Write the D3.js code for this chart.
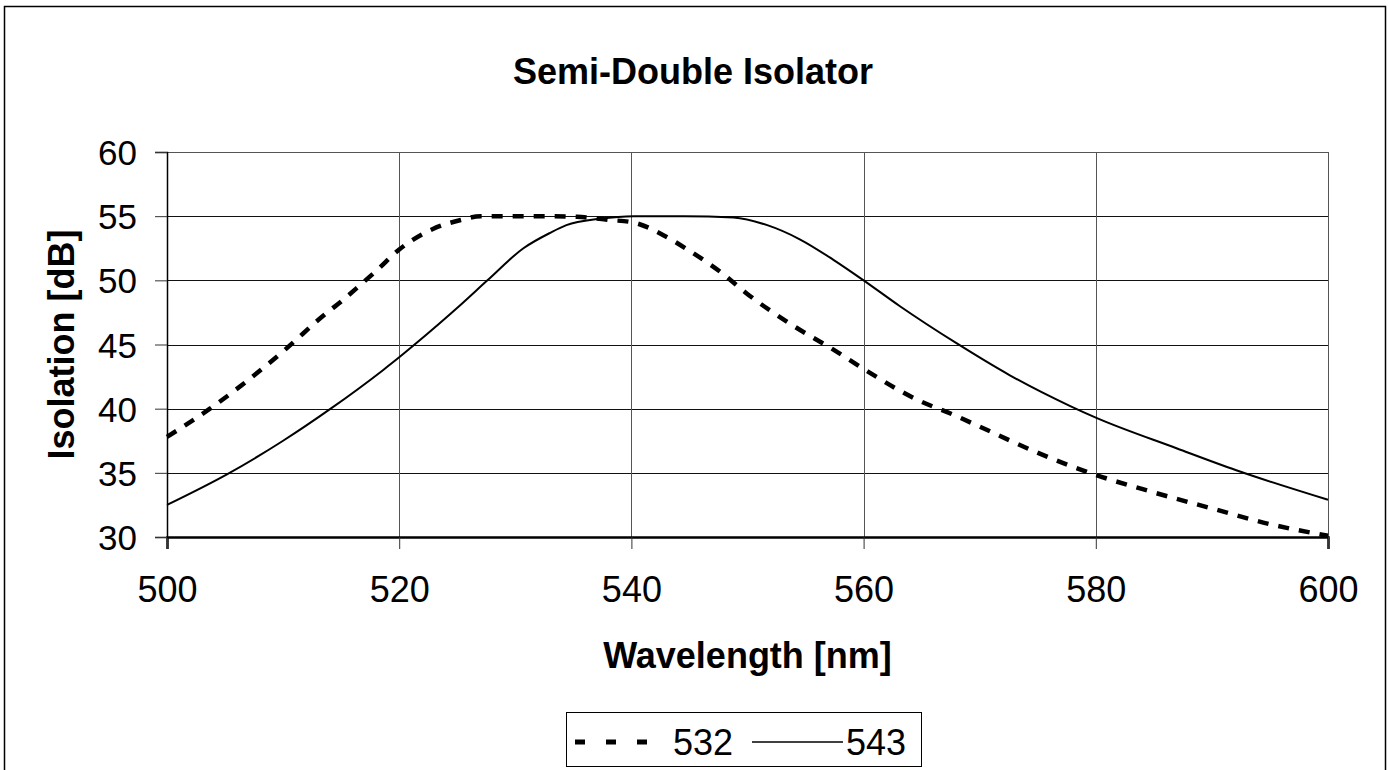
<!DOCTYPE html>
<html lang="en">
<head>
    <meta charset="UTF-8">
    <title>Semi-Double Isolator</title>
    <style>
        body { margin: 0; background: #fff; }
        text { font-family: "Liberation Sans", Arial, sans-serif; fill: #000; }
    </style>
</head>
<body>
    <script src="https://d3js.org/d3.v7.min.js"></script>
    <div id="chart"></div>
    <script>
    // data
    const wavelength532 = [500, 503.7, 508.6, 510.3, 513.4, 515.2, 516.6, 518.1, 520, 522.9, 525.3, 527, 530, 533, 535.3, 538.2, 540.2, 543, 545, 547.9, 549.9, 553.7, 557.4, 560, 564.6, 567.8, 570, 574.9, 579.8, 584.9, 590.1, 595, 600]
    const isolation532 = [37.8, 40.0, 43.4, 44.7, 47.2, 48.5, 49.6, 50.8, 52.4, 54.0, 54.7, 55.0, 55.0, 55.0, 54.95, 54.7, 54.5, 53.4, 52.3, 50.5, 49.0, 46.6, 44.6, 43.1, 40.7, 39.5, 38.6, 36.6, 34.9, 33.5, 32.2, 31.0, 30.1]
    const wavelength543 = [500, 505.2, 510, 514.1, 518.6, 520, 521.2, 525.3, 527.6, 530.7, 533, 534.4, 537.3, 540.2, 544.5, 548.8, 551.7, 554.5, 557.4, 560, 563.1, 568, 572.6, 577.8, 580, 587, 592.1, 600]
    const isolation543 = [32.5, 34.9, 37.5, 40.0, 43.0, 44.0, 44.9, 48.1, 50.0, 52.5, 53.7, 54.3, 54.8, 55.0, 55.0, 54.9, 54.3, 53.2, 51.6, 50.0, 48.0, 45.1, 42.6, 40.2, 39.3, 36.9, 35.2, 32.9]
    const xTicks = [500, 520, 540, 560, 580, 600]
    const yTicks = [30, 35, 40, 45, 50, 55, 60]
    const seriesNames = ["532", "543"]

    const W = 1389, H = 770
    const MARGIN = { LEFT: 167, RIGHT: 61, TOP: 152, BOTTOM: 233 }
    const WIDTH = W - MARGIN.LEFT - MARGIN.RIGHT
    const HEIGHT = H - MARGIN.TOP - MARGIN.BOTTOM

    const svg = d3.select("#chart")
        .append("svg")
        .attr("width", W)
        .attr("height", H)

    // outer frame (bottom edge runs off the picture)
    svg.append("rect")
        .attr("x", 4.5).attr("y", 6.5)
        .attr("width", 1381).attr("height", 800)
        .style("fill", "none").style("stroke", "#000").style("stroke-width", 1.5)

    const g = svg.append("g")
        .attr("transform", `translate(${MARGIN.LEFT}, ${MARGIN.TOP})`)

    const x = d3.scaleLinear().domain([500, 600]).range([0, WIDTH])
    const y = d3.scaleLinear().domain([30, 60]).range([HEIGHT, 0])

    // grid
    g.append("g")
        .selectAll("line")
        .data(yTicks)
        .join("line")
        .attr("x1", 0).attr("x2", WIDTH)
        .attr("y1", d => Math.round(y(d)) + 0.5).attr("y2", d => Math.round(y(d)) + 0.5)
        .style("stroke", d => d === 60 ? "#555" : "#111")
        .style("stroke-width", 1)
    g.append("g")
        .selectAll("line")
        .data(xTicks)
        .join("line")
        .attr("x1", d => Math.round(x(d)) + 0.5).attr("x2", d => Math.round(x(d)) + 0.5)
        .attr("y1", 0).attr("y2", HEIGHT)
        .style("stroke", "#555")
        .style("stroke-width", 1)

    // axes
    const xAxis = d3.axisBottom(x).tickValues(xTicks).tickSize(12).tickPadding(27)
    const yAxis = d3.axisLeft(y).tickValues(yTicks).tickSize(12).tickPadding(18)

    const gx = g.append("g").attr("transform", `translate(0, ${HEIGHT})`).call(xAxis)
    gx.select(".domain").style("stroke", "#000").style("stroke-width", 2.5)
    gx.selectAll(".tick line").style("stroke", "#333")
    gx.selectAll("text").style("font-size", "36px").attr("dy", "0.71em")

    const gy = g.append("g").call(yAxis)
    gy.select(".domain").style("stroke", "#000").style("stroke-width", 1.5)
    gy.selectAll(".tick line").style("stroke", "#333")
    gy.selectAll("text").style("font-size", "35px").attr("dy", "0.36em")

    // lines
    const line = d3.line()
        .x(d => x(d[0]))
        .y(d => y(d[1]))
        .curve(d3.curveMonotoneX)

    g.append("path")
        .datum(wavelength543.map((d, i) => [d, isolation543[i]]))
        .attr("d", line)
        .style("fill", "none")
        .style("stroke", "#000")
        .style("stroke-width", 2)

    g.append("path")
        .datum(wavelength532.map((d, i) => [d, isolation532[i]]))
        .attr("d", line)
        .style("fill", "none")
        .style("stroke", "#000")
        .style("stroke-width", 4.5)
        .style("stroke-dasharray", "11,10")

    // titles
    svg.append("text")
        .attr("x", 693).attr("y", 84)
        .attr("text-anchor", "middle")
        .style("font-size", "36px").style("font-weight", "bold")
        .text("Semi-Double Isolator")

    svg.append("text")
        .attr("x", MARGIN.LEFT + WIDTH / 2).attr("y", 668)
        .attr("text-anchor", "middle")
        .style("font-size", "36px").style("font-weight", "bold")
        .text("Wavelength [nm]")

    svg.append("text")
        .attr("transform", `translate(74, ${MARGIN.TOP + HEIGHT / 2}) rotate(-90)`)
        .attr("text-anchor", "middle")
        .style("font-size", "36px").style("font-weight", "bold")
        .text("Isolation [dB]")

    // legend
    const lg = svg.append("g").attr("transform", "translate(566, 712)")
    lg.append("rect")
        .attr("x", 0.5).attr("y", 0.5)
        .attr("width", 355).attr("height", 54)
        .style("fill", "#fff").style("stroke", "#000").style("stroke-width", 1)
    lg.append("line")
        .attr("x1", 9).attr("x2", 92).attr("y1", 30).attr("y2", 30)
        .style("stroke", "#000").style("stroke-width", 5)
        .style("stroke-dasharray", "10,21")
    lg.append("text")
        .attr("x", 107).attr("y", 43)
        .style("font-size", "36px")
        .text(seriesNames[0])
    lg.append("line")
        .attr("x1", 186).attr("x2", 277).attr("y1", 30).attr("y2", 30)
        .style("stroke", "#000").style("stroke-width", 1.5)
    lg.append("text")
        .attr("x", 280).attr("y", 43)
        .style("font-size", "36px")
        .text(seriesNames[1])
    </script>
</body>
</html>
